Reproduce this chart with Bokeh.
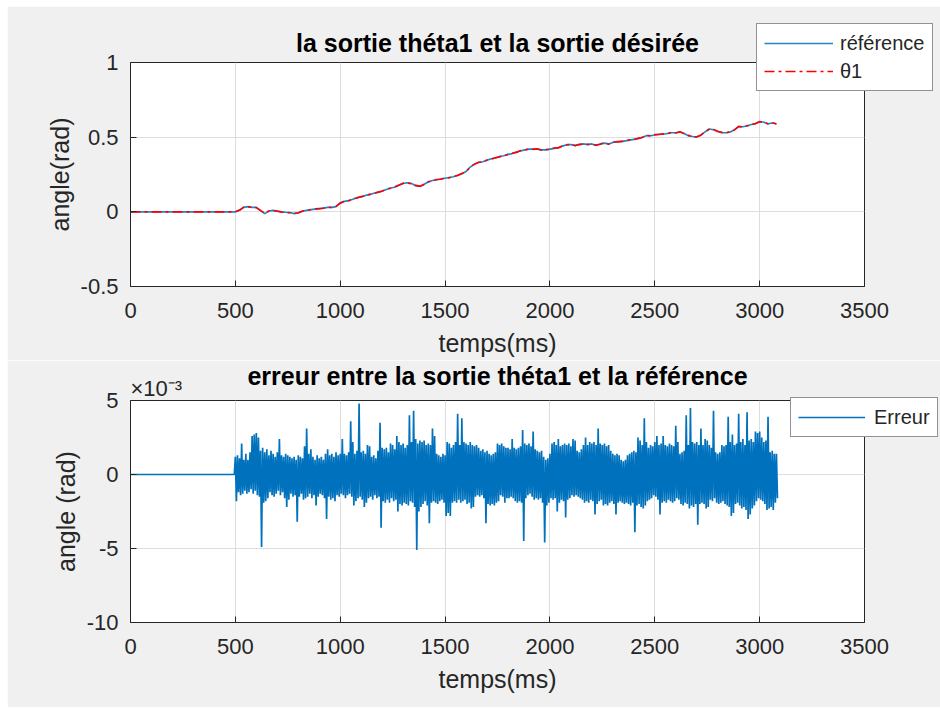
from bokeh.plotting import figure
from bokeh.layouts import column
from bokeh.models import Legend, LegendItem, Title, FixedTicker, Range1d
from bokeh.embed import file_html
from bokeh.resources import INLINE

# ---------------- data ----------------
x_ticks = [0, 500, 1000, 1500, 2000, 2500, 3000, 3500]
y1_ticks = [-0.5, 0, 0.5, 1]
y1_tick_labels = ["-0.5", "0", "0.5", "1"]
y2_ticks = [-10, -5, 0, 5]
y2_tick_labels = ["-10", "-5", "0", "5"]

time_ms = [0, 100, 200, 300, 400, 500] + list(range(520, 3081, 20))

reference = [0, 0, 0, 0, 0, 0,
    0.01, 0.03, 0.035, 0.03, 0.03, 0.01, -0.012, 0.005, 0.01, 0.005,
    0.0, -0.003, -0.005, -0.012, -0.008, 0.005, 0.01, 0.015, 0.018, 0.02,
    0.025, 0.03, 0.03, 0.035, 0.06, 0.07, 0.075, 0.085, 0.095, 0.1,
    0.11, 0.115, 0.125, 0.13, 0.14, 0.15, 0.16, 0.165, 0.18, 0.19,
    0.195, 0.19, 0.175, 0.17, 0.185, 0.2, 0.21, 0.215, 0.22, 0.225,
    0.23, 0.235, 0.245, 0.255, 0.27, 0.3, 0.32, 0.33, 0.335, 0.345,
    0.355, 0.36, 0.37, 0.375, 0.385, 0.39, 0.4, 0.408, 0.415, 0.42,
    0.42, 0.42, 0.415, 0.415, 0.42, 0.425, 0.43, 0.44, 0.45, 0.45,
    0.445, 0.45, 0.455, 0.45, 0.455, 0.445, 0.455, 0.46, 0.455, 0.465,
    0.47, 0.47, 0.475, 0.48, 0.485, 0.49, 0.5, 0.51, 0.51, 0.515,
    0.52, 0.52, 0.525, 0.53, 0.53, 0.535, 0.525, 0.51, 0.505, 0.5,
    0.515, 0.535, 0.555, 0.55, 0.54, 0.53, 0.53, 0.535, 0.55, 0.57,
    0.57, 0.575, 0.585, 0.59, 0.605, 0.6, 0.59, 0.595, 0.59]

theta1 = [0, 0, 0, 0, 0, 0,
    0.012, 0.032, 0.033, 0.031, 0.028, 0.008, -0.01, 0.006, 0.008, 0.004,
    -0.002, -0.004, -0.006, -0.01, -0.006, 0.004, 0.012, 0.014, 0.02, 0.022,
    0.024, 0.032, 0.029, 0.037, 0.058, 0.072, 0.074, 0.087, 0.093, 0.102,
    0.108, 0.117, 0.123, 0.132, 0.138, 0.152, 0.158, 0.167, 0.178, 0.192,
    0.193, 0.188, 0.177, 0.172, 0.183, 0.202, 0.208, 0.217, 0.218, 0.227,
    0.228, 0.237, 0.243, 0.257, 0.268, 0.302, 0.318, 0.332, 0.333, 0.347,
    0.353, 0.362, 0.368, 0.377, 0.383, 0.392, 0.398, 0.41, 0.413, 0.422,
    0.418, 0.422, 0.413, 0.417, 0.418, 0.427, 0.428, 0.442, 0.448, 0.452,
    0.443, 0.452, 0.453, 0.452, 0.453, 0.447, 0.453, 0.462, 0.453, 0.467,
    0.468, 0.472, 0.473, 0.482, 0.483, 0.492, 0.498, 0.512, 0.508, 0.517,
    0.518, 0.522, 0.523, 0.532, 0.528, 0.537, 0.523, 0.512, 0.503, 0.502,
    0.513, 0.537, 0.553, 0.552, 0.538, 0.532, 0.528, 0.537, 0.548, 0.572,
    0.568, 0.577, 0.583, 0.592, 0.603, 0.602, 0.588, 0.597, 0.588]

# error envelope (units of 1e-3 rad), one pair per 10 ms bin from 500 to 3080 ms
err_flat_ms = [0, 495]
err_flat = [0, 0]
err_bins_ms = list(range(500, 3081, 10))
err_hi = [
    1.2, 1.3, 1.1, 2.1, 1.0, 1.4, 1.0, 1.5, 2.6, 2.7, 2.8, 2.5, 1.6, 1.8, 1.5, 1.7, 1.3, 1.6, 1.4, 1.2, 1.5, 2.4, 1.3, 1.2, 1.4, 1.3,
    1.2, 1.1, 1.2, 1.0, 1.3, 1.2, 1.1, 1.9, 3.1, 1.4, 1.7, 1.2, 1.0, 1.3, 1.1, 1.2, 1.0, 1.4, 1.7, 1.3, 1.4, 1.2, 1.5, 1.3, 1.4, 2.4,
    1.4, 1.3, 1.5, 3.6, 2.2, 1.4, 1.6, 4.8, 1.5, 1.6, 1.4, 2.0, 1.9, 1.2, 1.3, 1.1, 1.6, 3.5, 1.8, 1.7, 1.8, 1.5, 2.1, 2.0, 1.7, 2.6,
    2.2, 2.0, 2.1, 1.8, 2.0, 4.0, 2.2, 4.3, 2.4, 2.1, 2.3, 2.2, 2.3, 2.0, 2.1, 2.0, 3.1, 2.6, 1.4, 1.3, 1.2, 1.4, 1.3, 2.2, 2.1, 1.8,
    2.0, 2.2, 4.1, 2.0, 3.8, 2.2, 2.1, 2.0, 2.2, 2.0, 1.9, 2.0, 1.8, 1.6, 1.7, 1.5, 1.6, 1.4, 1.3, 1.4, 1.5, 2.1, 2.0, 2.1, 1.9, 1.8,
    1.8, 1.7, 2.4, 1.8, 1.7, 1.8, 1.9, 3.0, 2.1, 2.0, 2.1, 1.9, 2.9, 1.7, 1.6, 1.5, 1.6, 1.2, 1.0, 1.1, 1.4, 2.1, 2.2, 2.0, 2.4, 1.9,
    2.0, 2.1, 2.0, 2.1, 1.9, 2.4, 2.3, 1.6, 1.5, 1.7, 2.0, 2.5, 2.0, 2.2, 2.1, 2.2, 2.0, 3.1, 2.1, 2.0, 2.1, 1.9, 2.0, 1.6, 1.4, 1.3,
    1.4, 1.3, 1.0, 0.9, 1.0, 1.3, 1.4, 1.5, 1.6, 1.5, 2.5, 2.3, 2.0, 3.8, 2.2, 1.8, 2.0, 1.9, 2.2, 2.6, 2.0, 2.1, 2.6, 2.0, 1.9, 2.1,
    2.0, 1.9, 3.3, 2.2, 1.4, 1.5, 1.6, 4.0, 2.0, 4.5, 2.2, 2.1, 2.2, 2.0, 3.1, 2.0, 2.4, 2.3, 2.0, 1.8, 4.3, 1.5, 1.4, 1.5, 2.0, 1.9,
    2.0, 3.9, 2.2, 2.7, 2.0, 2.1, 4.1, 2.2, 2.4, 2.0, 4.2, 2.3, 2.4, 2.2, 2.9, 2.8, 2.9, 2.5, 2.2, 2.3, 3.9, 1.5, 1.6, 1.4, 1.4]
err_lo = [
    -1.8, -1.2, -1.4, -1.3, -1.1, -1.3, -1.2, -1.0, -1.3, -1.1, -1.4, -1.5, -4.9, -1.9, -1.8, -1.6, -1.2, -1.4, -1.5, -1.3, -1.1, -1.4, -1.2, -1.6, -2.2, -1.7,
    -1.3, -1.5, -1.4, -3.2, -1.5, -1.3, -1.7, -1.6, -1.5, -1.3, -1.6, -1.4, -2.1, -1.5, -1.3, -1.4, -1.6, -3.0, -1.5, -1.7, -1.6, -1.8, -1.4, -1.5, -1.3, -1.4,
    -1.6, -1.4, -1.3, -1.5, -2.1, -1.8, -1.6, -1.5, -1.7, -2.2, -1.9, -1.6, -1.5, -1.7, -1.4, -1.6, -1.5, -3.6, -1.8, -1.9, -1.7, -1.9, -1.6, -1.8, -1.7, -2.5,
    -2.0, -2.1, -1.9, -2.0, -2.1, -1.8, -1.9, -2.2, -5.1, -2.5, -2.2, -2.0, -1.8, -2.1, -3.3, -1.9, -1.8, -1.9, -2.0, -1.8, -1.7, -1.9, -2.8, -2.6, -2.8, -1.9,
    -1.8, -1.9, -1.7, -1.9, -1.8, -1.7, -2.0, -1.9, -2.3, -2.2, -1.5, -1.4, -1.5, -1.4, -1.6, -3.3, -2.0, -2.1, -2.0, -2.1, -1.9, -1.8, -1.4, -1.5, -1.9, -1.6,
    -1.6, -1.5, -1.6, -1.8, -1.9, -1.8, -1.9, -4.5, -1.6, -1.4, -1.3, -1.5, -1.7, -1.6, -1.7, -1.6, -1.9, -4.6, -2.1, -1.9, -1.6, -1.7, -1.6, -2.5, -1.9, -1.7,
    -1.8, -2.9, -1.7, -1.6, -1.4, -1.5, -1.4, -1.5, -1.6, -1.7, -1.9, -1.8, -1.9, -1.7, -1.8, -2.7, -2.0, -1.8, -1.7, -2.1, -2.0, -2.1, -1.9, -1.8, -2.0, -2.7,
    -1.9, -1.8, -1.9, -2.0, -1.9, -2.0, -2.1, -1.9, -3.9, -2.1, -2.0, -2.2, -2.3, -2.1, -1.8, -1.7, -1.6, -1.4, -1.5, -1.7, -2.7, -1.9, -1.8, -1.9, -1.7, -1.8,
    -1.9, -1.8, -1.6, -1.7, -2.0, -2.1, -1.9, -2.0, -2.3, -2.1, -2.2, -2.0, -3.4, -2.0, -1.9, -2.0, -2.3, -2.2, -1.7, -1.8, -1.6, -1.9, -2.0, -1.9, -1.8, -2.0,
    -2.1, -2.2, -2.8, -2.6, -2.0, -1.9, -2.1, -2.3, -2.2, -2.4, -3.0, -2.7, -2.3, -2.1, -1.8, -1.6, -1.7, -1.8, -2.0, -2.4, -2.3, -2.2, -2.4, -1.9, -1.6]

# ---------------- styling ----------------
FONT = "Liberation Sans"
AX = "#262626"
BG = "#f0f0f0"
BLUE = "#0072BD"
RED = "#FF0000"


def style(p, yticks, ylabels):
    p.border_fill_color = BG
    p.background_fill_color = "white"
    p.outline_line_color = AX
    p.outline_line_width = 1
    p.x_range = Range1d(0, 3500)
    p.xaxis.ticker = FixedTicker(ticks=x_ticks)
    p.yaxis.ticker = FixedTicker(ticks=yticks)
    p.yaxis.major_label_overrides = {t: l for t, l in zip(yticks, ylabels)}
    for ax in (p.xaxis[0], p.yaxis[0]):
        ax.axis_line_color = AX
        ax.major_tick_line_color = AX
        ax.major_tick_in = 6
        ax.major_tick_out = 0
        ax.minor_tick_line_color = None
        ax.major_label_text_font = FONT
        ax.major_label_text_font_size = "22px"
        ax.major_label_text_color = AX
        ax.axis_label_text_font = FONT
        ax.axis_label_text_font_size = "25px"
        ax.axis_label_text_font_style = "normal"
        ax.axis_label_text_color = AX
    p.xaxis.major_label_standoff = 16
    p.yaxis.major_label_standoff = 12
    p.xaxis.axis_label_standoff = 8
    p.yaxis.axis_label_standoff = 4
    p.grid.grid_line_color = "#dedede"
    p.grid.grid_line_width = 1
    p.title.text_font = FONT
    p.title.text_font_size = "25px"
    p.title.text_font_style = "bold"
    p.title.align = "center"
    p.title.text_color = "#000000"


def style_legend(leg):
    leg.label_text_font = FONT
    leg.label_text_font_size = "20px"
    leg.label_text_color = AX
    leg.glyph_height = 24
    leg.label_height = 24
    leg.spacing = 4
    leg.padding = 7
    leg.margin = 0
    leg.border_line_color = AX
    leg.border_line_width = 1
    leg.background_fill_color = "white"
    leg.background_fill_alpha = 1


# ---------------- top plot ----------------
p1 = figure(frame_width=734, frame_height=224, output_backend="svg", toolbar_location=None,
            title="la sortie théta1 et la sortie désirée",
            min_border_left=123, min_border_right=10, min_border_top=56, min_border_bottom=74)
p1.y_range = Range1d(-0.5, 1)
style(p1, y1_ticks, y1_tick_labels)
p1.title.standoff = 12
p1.xaxis.axis_label = "temps(ms)"
p1.yaxis.axis_label = "angle(rad)"
r_ref = p1.line(time_ms, reference, line_color="#1F86CC", line_width=1.6)
r_th = p1.line(time_ms, theta1, line_color=RED, line_width=1.6, line_dash="10 4 3 4")
leg1 = Legend(items=[LegendItem(label="référence", renderers=[r_ref]),
                     LegendItem(label="θ1", renderers=[r_th])],
              location=(-108, 195))
style_legend(leg1)
leg1.glyph_width = 69
leg1.label_standoff = 7
p1.add_layout(leg1, "right")

# ---------------- bottom plot ----------------
p2 = figure(frame_width=734, frame_height=222, output_backend="svg", toolbar_location=None,
            title="erreur entre la sortie théta1 et la référence",
            min_border_left=123, min_border_right=10, min_border_top=40, min_border_bottom=85)
p2.y_range = Range1d(-10, 5)
style(p2, y2_ticks, y2_tick_labels)
p2.title.standoff = -33
p2.xaxis.axis_label = "temps(ms)"
p2.yaxis.axis_label = "angle (rad)"

ex = list(err_flat_ms)
ey = list(err_flat)
for t, hi, lo in zip(err_bins_ms, err_hi, err_lo):
    ex += [t, t + 5]
    ey += [hi, lo]
r_err = p2.line(ex, ey, line_color=BLUE, line_width=1.7)

leg2 = Legend(items=[LegendItem(label="Erreur", renderers=[r_err])],
              location=(-74, 185))
style_legend(leg2)
leg2.glyph_width = 67
leg2.label_standoff = 9
p2.add_layout(leg2, "right")

p2.add_layout(Title(text="×10⁻³", align="left", text_font=FONT, text_font_size="22px",
                    text_font_style="normal", text_color=AX, standoff=0), "above")

layout = column(p1, p2, spacing=0, margin=(6, 0, 0, 7))
open("out.html", "w").write(file_html(layout, INLINE))
